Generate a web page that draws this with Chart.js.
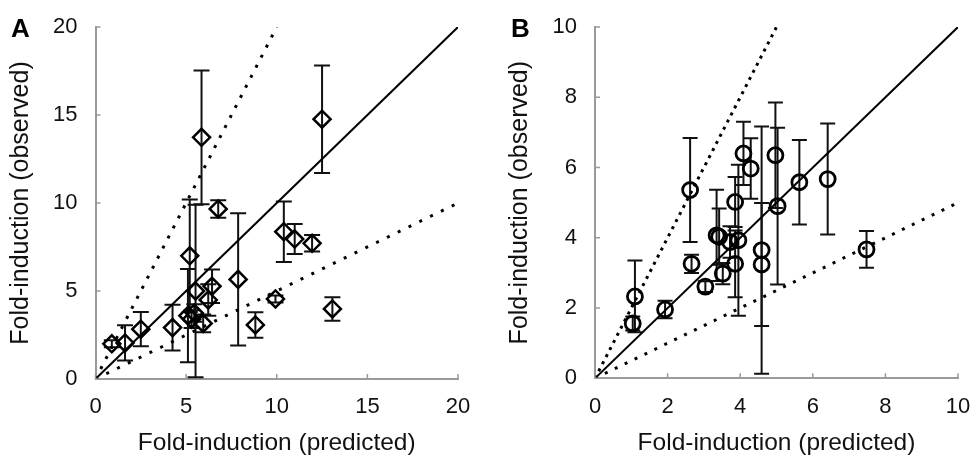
<!DOCTYPE html>
<html><head><meta charset="utf-8">
<script src="https://cdn.jsdelivr.net/npm/chart.js@4"></script>
<style>
html,body{margin:0;padding:0;background:#fff;}
#wrap{position:relative;width:970px;height:455px;overflow:hidden;background:#fff;}
canvas{position:absolute;top:0;}
.lbl{position:absolute;font:bold 26px "Liberation Sans",Arial,sans-serif;line-height:26px;color:#000;}
</style></head><body>
<div id="wrap">
<canvas id="cA" width="485" height="455" style="left:0"></canvas>
<canvas id="cB" width="485" height="455" style="left:485px"></canvas>
<div class="lbl" style="left:11px;top:15px">A</div>
<div class="lbl" style="left:511px;top:15px">B</div>
</div>
<script>
// ---- Panel A data ----
const predA = [0.9, 1.63, 2.5, 4.25, 5.2, 5.52, 5.1, 5.3, 5.45, 5.94, 6.22, 6.43, 5.85, 6.77, 7.87, 8.82, 9.93, 10.39, 10.99, 11.95, 13.07, 12.5];
const obsA  = [2.0, 2.05, 2.83, 2.92, 7.0, 5.0, 3.6, 3.4, 3.75, 3.16, 4.49, 5.27, 13.73, 9.66, 5.66, 3.07, 4.55, 8.37, 7.95, 7.71, 3.98, 14.76];
const errA  = [0.2, 1.0, 0.97, 1.3, 3.2, 4.9, 2.65, 0.5, 0.5, 0.5, 0.9, 0.95, 3.8, 0.5, 3.76, 0.72, 0.2, 1.72, 0.85, 0.47, 0.67, 3.05];
const ticksA = [0, 5, 10, 15, 20];

// ---- Panel B data ----
const predB = [1.04, 1.1, 1.93, 2.62, 2.66, 3.04, 3.35, 3.42, 3.52, 3.72, 3.86, 3.86, 3.95, 4.09, 4.29, 4.59, 4.59, 4.97, 5.03, 5.63, 6.41, 7.48];
const obsB  = [1.56, 2.33, 1.96, 5.36, 3.26, 2.61, 4.07, 4.03, 2.98, 3.88, 5.02, 3.26, 3.93, 6.4, 5.97, 3.65, 3.24, 6.35, 4.9, 5.58, 5.67, 3.67];
const errB  = [0.2, 1.02, 0.25, 1.48, 0.26, 0.15, 1.3, 0.8, 0.3, 0.45, 0.71, 0.95, 2.15, 0.9, 0.86, 3.52, 1.75, 1.5, 2.23, 1.2, 1.58, 0.52];
const ticksB = [0, 2, 4, 6, 8, 10];

// reference lines: observed = slope * predicted
const refSlopes = [1, 2, 0.5];

const axisTitleX = 'Fold-induction (predicted)';
const axisTitleY = 'Fold-induction (observed)';

Chart.defaults.font.family = '"Liberation Sans", Arial, sans-serif';
Chart.defaults.color = '#111';

const AXIS_COLOR = '#9a9a9a';

const errBars = {
  id: 'errBars',
  beforeDatasetsDraw(chart) {
    const ds = chart.data.datasets[0];
    const xs = chart.scales.x, ys = chart.scales.y, ctx = chart.ctx;
    const cap = ds.capHalf;
    ctx.save();
    ctx.strokeStyle = '#111';
    ctx.lineWidth = 2;
    ds.data.forEach((p, i) => {
      const e = ds.errors[i];
      const px = xs.getPixelForValue(p.x);
      const t = ys.getPixelForValue(p.y + e);
      const b = ys.getPixelForValue(Math.max(p.y - e, ys.min));
      ctx.beginPath();
      ctx.moveTo(px, t); ctx.lineTo(px, b);
      ctx.moveTo(px - cap, t); ctx.lineTo(px + cap, t);
      ctx.moveTo(px - cap, b); ctx.lineTo(px + cap, b);
      ctx.stroke();
    });
    ctx.restore();
  },
  afterDraw(chart) {
    const xs = chart.scales.x, ys = chart.scales.y, ctx = chart.ctx;
    ctx.save();
    ctx.strokeStyle = AXIS_COLOR;
    ctx.lineWidth = 1.5;
    ctx.beginPath();
    xs.ticks.forEach(t => {
      const px = xs.getPixelForValue(t.value);
      ctx.moveTo(px, ys.bottom); ctx.lineTo(px, ys.bottom - 5);
    });
    ys.ticks.forEach(t => {
      const py = ys.getPixelForValue(t.value);
      ctx.moveTo(xs.left, py); ctx.lineTo(xs.left + 5, py);
    });
    ctx.stroke();
    ctx.restore();
  }
};

function makePanel(id, pred, obs, err, ticks, o) {
  const max = ticks[ticks.length - 1];
  const step = ticks[1] - ticks[0];
  const pts = pred.map((x, i) => ({x: x, y: obs[i]}));
  const lines = refSlopes.map((s, k) => {
    const xe = Math.min(max, max / s);
    return {
      data: [{x: 0, y: 0}, {x: xe, y: s * xe}],
      showLine: true, pointRadius: 0, borderColor: '#000',
      borderWidth: k === 0 ? 2 : 3,
      borderDash: k === 0 ? [] : o.dash[k - 1],
      borderCapStyle: 'butt'
    };
  });
  new Chart(document.getElementById(id), {
    type: 'scatter',
    data: {
      datasets: [{
        data: pts, errors: err, capHalf: o.cap,
        pointStyle: o.style, pointRadius: o.radius, pointHoverRadius: o.radius,
        borderColor: '#000', borderWidth: o.bw, backgroundColor: 'rgba(0,0,0,0)'
      }].concat(lines)
    },
    options: {
      responsive: false, animation: false, devicePixelRatio: 1,
      layout: {padding: {left: 0, top: 27, right: o.padRight, bottom: 0}},
      plugins: {legend: {display: false}, tooltip: {enabled: false}},
      scales: {
        x: {
          type: 'linear', min: 0, max: max,
          afterBuildTicks: s => { s.ticks = ticks.map(v => ({value: v})); },
          ticks: {stepSize: step, padding: 15, font: {size: 22}, color: '#111'},
          grid: {display: false, drawTicks: false},
          border: {display: true, color: AXIS_COLOR, width: 2},
          title: {display: true, text: axisTitleX, font: {size: 24.5, lineHeight: 1}, padding: {top: 0, bottom: 0}, color: '#111'},
          afterFit: s => { s.height = o.xh; s.paddingLeft = 0; s.paddingRight = 0; }
        },
        y: {
          type: 'linear', min: 0, max: max,
          afterBuildTicks: s => { s.ticks = ticks.map(v => ({value: v})); },
          ticks: {stepSize: step, padding: 18, font: {size: 22}, color: '#111'},
          grid: {display: false, drawTicks: false},
          border: {display: true, color: AXIS_COLOR, width: 2},
          title: {display: true, text: axisTitleY, font: {size: 25, lineHeight: 1.2}, padding: {top: o.ytPad, bottom: 0}, color: '#111'},
          afterFit: s => { s.width = o.yw; s.paddingTop = 0; s.paddingBottom = 0; }
        }
      }
    },
    plugins: [errBars]
  });
}

makePanel('cA', predA, obsA, errA, ticksA,
  {style: 'rectRot', radius: 8.5, bw: 2.5, cap: 8, padRight: 27, xh: 76, yw: 95.5, ytPad: 6.5, dash: [[3, 8.3], [3, 9]]});
makePanel('cB', predB, obsB, errB, ticksB,
  {style: 'circle', radius: 7.5, bw: 2.8, cap: 7.5, padRight: 12, xh: 76.7, yw: 110, ytPad: 20.5, dash: [[3, 5], [3, 8]]});
</script>
</body></html>
